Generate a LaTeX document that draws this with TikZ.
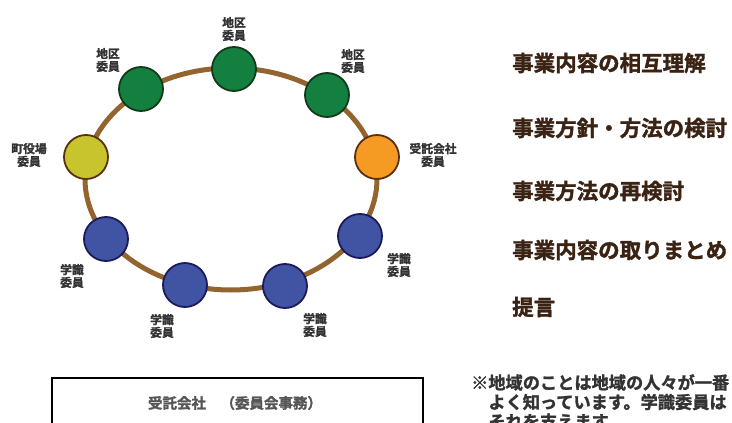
\documentclass[tikz,border=0pt]{standalone}
\usepackage{fontspec}
\newfontfamily\cjk[FakeBold=1.6]{Noto Sans CJK JP Bold}
\definecolor{ring}{HTML}{94642F}
\definecolor{gfill}{HTML}{138040}
\definecolor{gline}{HTML}{123A1A}
\definecolor{yfill}{HTML}{C8C42E}
\definecolor{oline}{HTML}{5A3010}
\definecolor{ofill}{HTML}{F59A22}
\definecolor{bfill}{HTML}{4054A3}
\definecolor{bline}{HTML}{1C1A5C}
\definecolor{lbl}{HTML}{333333}
\definecolor{brn}{HTML}{3B2314}
\definecolor{boxtxt}{HTML}{555555}
\tikzset{
  member/.style={circle,minimum size=44,inner sep=0,line width=1.8},
  green/.style={member,fill=gfill,draw=gline},
  yel/.style={member,fill=yfill,draw=oline},
  ora/.style={member,fill=ofill,draw=oline},
  blu/.style={member,fill=bfill,draw=bline},
  lab/.style={text=lbl,font=\cjk\fontsize{11.8}{12.8}\selectfont,align=center,inner sep=0},
  stage/.style={text=brn,font=\cjk\fontsize{21.5}{24}\selectfont,anchor=west,inner sep=0},
}
\begin{document}
\begin{tikzpicture}[x=1pt,y=-1pt]
\useasboundingbox (0,0) rectangle (732,423);
\clip (0,0) rectangle (732,423);
\fill[white] (0,0) rectangle (732,423);
\draw[ring,line width=5] (231,179) ellipse [x radius=146,y radius=111];
\node[green] (g1) at (234,69) {};
\node[green] (g2) at (141,89) {};
\node[green] (g3) at (327,95) {};
\node[yel] (y1) at (86,157) {};
\node[ora] (o1) at (377,157) {};
\node[blu] (b1) at (106,239) {};
\node[blu] (b2) at (185,285) {};
\node[blu] (b3) at (285,286) {};
\node[blu] (b4) at (360,236) {};
\node[lab] (lg1) at (234,29) {地区\\委員};
\node[lab] (lg2) at (108,60) {地区\\委員};
\node[lab] (lg3) at (353,61) {地区\\委員};
\node[lab] (ly1) at (29,155) {町役場\\委員};
\node[lab] (lo1) at (433,155) {受託会社\\委員};
\node[lab] (lb1) at (72,276) {学識\\委員};
\node[lab] (lb2) at (162,326) {学識\\委員};
\node[lab] (lb3) at (315,325) {学識\\委員};
\node[lab] (lb4) at (399,265) {学識\\委員};
\node[stage] (s1) at (512,63) {事業内容の相互理解};
\node[stage] (s2) at (512,128) {事業方針・方法の検討};
\node[stage] (s3) at (512,191) {事業方法の再検討};
\node[stage] (s4) at (512,250) {事業内容の取りまとめ};
\node[stage] (s5) at (512,307) {提言};
\node[text=lbl,font=\cjk\fontsize{17.2}{19.5}\selectfont,anchor=north west,inner sep=0,align=left] (note) at (471,374)
  {※地域のことは地域の人々が一番\\\hspace*{1em}よく知っています。学識委員は\\\hspace*{1em}それを支えます。};
\draw[line width=1.2,black] (52,440) |- (423,378) -- (423,440);
\node[text=boxtxt,font=\cjk\fontsize{14.5}{16}\selectfont,inner sep=0] (office) at (235,403) {受託会社　（委員会事務）};
\end{tikzpicture}
\end{document}
